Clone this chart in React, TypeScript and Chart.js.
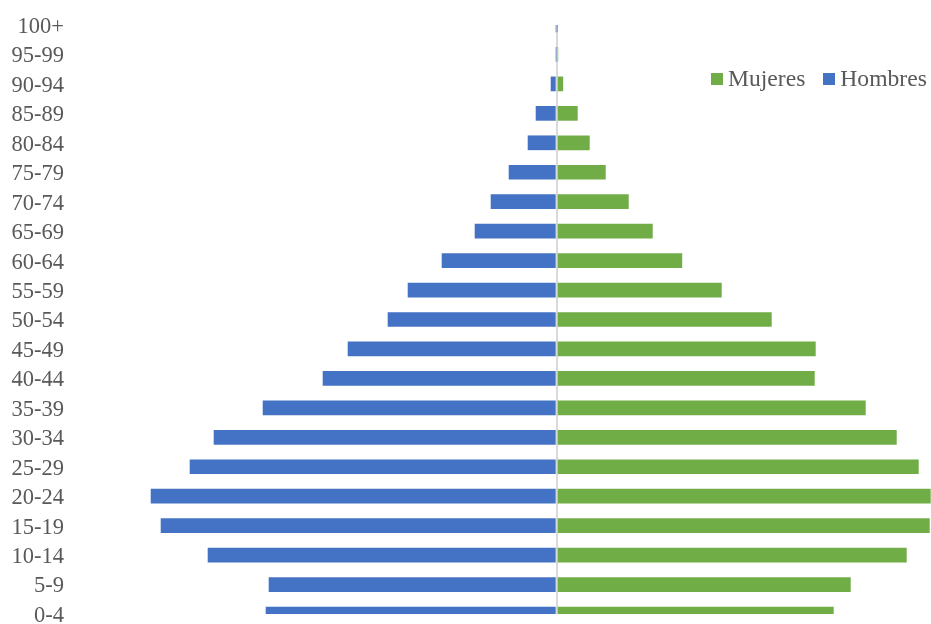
import React, { useEffect, useRef } from "react";
import { Chart, registerables } from "chart.js";

Chart.register(...registerables);

const ageGroups: string[] = [
  "100+", "95-99", "90-94", "85-89", "80-84", "75-79", "70-74", "65-69",
  "60-64", "55-59", "50-54", "45-49", "40-44", "35-39", "30-34", "25-29",
  "20-24", "15-19", "10-14", "5-9", "0-4",
];

const hombres: number[] = [
  0.3, 0.3, 6, 21, 29, 48, 66, 82, 115, 149, 169, 209, 234, 294, 343, 367,
  406, 396, 349, 288, 291,
];

const mujeres: number[] = [
  0.3, 1.5, 6.5, 21, 33, 49, 72, 96, 125.5, 165, 215, 259, 258, 309, 340,
  362, 374, 373, 350, 294, 277,
];

const seriesNames = { mujeres: "Mujeres", hombres: "Hombres" };
const colors = { mujeres: "#70AD47", hombres: "#4472C4" };

const X_MIN = -481.7;
const X_MAX = 374.3;

export default function App() {
  const canvasRef = useRef<HTMLCanvasElement | null>(null);

  useEffect(() => {
    document.body.style.margin = "0";
    const canvas = canvasRef.current;
    if (!canvas) return;
    const chart = new Chart(canvas, {
      type: "bar",
      data: {
        labels: ageGroups,
        datasets: [
          {
            label: seriesNames.mujeres,
            data: mujeres,
            backgroundColor: colors.mujeres,
            borderWidth: 0,
            clip: 0,
          } as any,
          {
            label: seriesNames.hombres,
            data: hombres.map((v) => -v),
            backgroundColor: colors.hombres,
            borderWidth: 0,
            clip: 0,
          } as any,
        ],
      },
      options: {
        indexAxis: "y",
        responsive: false,
        animation: false,
        layout: { padding: { top: 25, bottom: 26, left: 0, right: 0 } },
        datasets: {
          bar: { categoryPercentage: 1, barPercentage: 0.5 },
        },
        plugins: {
          legend: { display: false },
          tooltip: { enabled: false },
        },
        scales: {
          x: {
            stacked: true,
            min: X_MIN,
            max: X_MAX,
            border: { display: false },
            ticks: { display: false },
            afterBuildTicks: (scale: any) => {
              scale.ticks = [{ value: 0 }];
            },
            grid: {
              drawTicks: false,
              color: "#d9d9d9",
              lineWidth: 2,
            },
          },
          y: {
            stacked: true,
            offset: false,
            border: { display: false },
            grid: { display: false, drawTicks: false },
            afterFit: (scale: any) => {
              scale.width = 75;
            },
            ticks: {
              padding: 11,
              labelOffset: 2,
              color: "#595959",
              autoSkip: false,
              font: {
                family: "'Liberation Serif', 'Times New Roman', serif",
                size: 22.5,
                lineHeight: 1,
              },
            },
          },
        },
      },
    });
    return () => chart.destroy();
  }, []);

  const legendItem = (name: string, color: string, ml: number) => (
    <div style={{ display: "flex", alignItems: "center", marginLeft: ml }}>
      <div style={{ width: 12, height: 12, background: color, marginRight: 5 }} />
      <span>{name}</span>
    </div>
  );

  return (
    <div style={{ position: "relative", width: 931, height: 624, overflow: "hidden", background: "#fff" }}>
      <canvas ref={canvasRef} width={931} height={640} style={{ display: "block" }} />
      <div
        style={{
          position: "absolute",
          left: 711,
          top: 67,
          display: "flex",
          alignItems: "center",
          fontFamily: "'Liberation Serif', 'Times New Roman', serif",
          fontSize: 23.6,
          lineHeight: "23px",
          color: "#595959",
          whiteSpace: "nowrap",
        }}
      >
        {legendItem(seriesNames.mujeres, colors.mujeres, 0)}
        {legendItem(seriesNames.hombres, colors.hombres, 18)}
      </div>
    </div>
  );
}
